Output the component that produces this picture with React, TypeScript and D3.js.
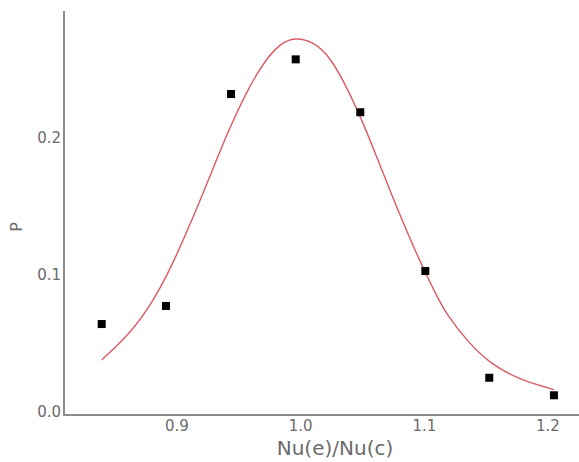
import { useEffect, useRef } from 'react';
import * as d3 from 'd3';

// observed points
const obsX = [0.8391, 0.8911, 0.9437, 0.996, 1.0482, 1.1008, 1.1525, 1.2048];
const obsP = [0.0642, 0.0774, 0.2321, 0.2574, 0.2188, 0.1029, 0.025, 0.0122];

// fitted curve
const fitX = [0.8391, 0.862, 0.8808, 0.8943, 0.9078, 0.9213, 0.9321, 0.9429, 0.9564, 0.9698, 0.9833, 0.9954,
    1.0102, 1.0237, 1.0372, 1.0506, 1.0587, 1.0749, 1.0911, 1.1019, 1.1127, 1.1181, 1.1343, 1.1531, 1.1774, 1.2016, 1.2048];
const fitP = [0.038, 0.057, 0.081, 0.104, 0.131, 0.16, 0.1845, 0.208, 0.234, 0.255, 0.269, 0.2735,
    0.2703, 0.2593, 0.2374, 0.2107, 0.1925, 0.1555, 0.1207, 0.0995, 0.08, 0.0715, 0.052, 0.0352, 0.0234, 0.0173, 0.0162];

const xTicks = [0.9, 1.0, 1.1, 1.2];
const yTicks = [0.0, 0.1, 0.2];

function App() {
    const ref = useRef<SVGSVGElement>(null);

    useEffect(() => {
        const width = 579;
        const height = 462;
        const axisX = 64;
        const axisY = 415;

        const x = d3.scaleLinear().domain([0.9, 1.2]).range([177, 548]);
        const y = d3.scaleLinear().domain([0, 0.2]).range([412, 138]);

        const svg = d3.select(ref.current);
        svg.selectAll('*').remove();
        svg.attr('width', width).attr('height', height);

        const axisColor = '#8c8c8c';
        const textColor = '#6a6a6a';
        const font = '"DejaVu Sans", Verdana, sans-serif';

        // axes lines
        svg.append('line')
            .attr('x1', axisX).attr('x2', axisX)
            .attr('y1', 11).attr('y2', axisY + 1)
            .attr('stroke', axisColor).attr('stroke-width', 2);
        svg.append('line')
            .attr('x1', axisX - 1).attr('x2', width)
            .attr('y1', axisY).attr('y2', axisY)
            .attr('stroke', axisColor).attr('stroke-width', 2);

        // tick labels
        svg.append('g')
            .selectAll('text')
            .data(yTicks)
            .join('text')
            .attr('x', axisX - 3)
            .attr('y', d => y(d))
            .attr('dy', '0.36em')
            .attr('text-anchor', 'end')
            .attr('font-family', font)
            .attr('font-size', 15)
            .attr('fill', textColor)
            .text(d => d3.format('.1f')(d));

        svg.append('g')
            .selectAll('text')
            .data(xTicks)
            .join('text')
            .attr('x', d => x(d))
            .attr('y', axisY + 16)
            .attr('text-anchor', 'middle')
            .attr('font-family', font)
            .attr('font-size', 15)
            .attr('fill', textColor)
            .text(d => d3.format('.1f')(d));

        // axis titles
        svg.append('text')
            .attr('x', 335)
            .attr('y', 455)
            .attr('text-anchor', 'middle')
            .attr('font-family', font)
            .attr('font-size', 20)
            .attr('fill', textColor)
            .text('Nu(e)/Nu(c)');

        svg.append('text')
            .attr('transform', 'translate(22,227) rotate(-90)')
            .attr('text-anchor', 'middle')
            .attr('font-family', font)
            .attr('font-size', 16)
            .attr('fill', textColor)
            .text('P');

        // fitted curve
        const line = d3.line<number>()
            .x((d, i) => x(fitX[i]))
            .y(d => y(d))
            .curve(d3.curveBasis);
        svg.append('path')
            .datum(fitP)
            .attr('d', line)
            .attr('fill', 'none')
            .attr('stroke', '#dc5a64')
            .attr('stroke-width', 1.4);

        // observed points
        svg.append('g')
            .selectAll('rect')
            .data(obsP)
            .join('rect')
            .attr('x', (d, i) => x(obsX[i]) - 4)
            .attr('y', d => y(d) - 4)
            .attr('width', 8)
            .attr('height', 8)
            .attr('fill', '#000');
    });

    return (
        <div className="chart-container">
            <svg ref={ref} style={{ position: 'absolute', left: 0, top: 0 }}></svg>
        </div>
    );
}

export default App;
